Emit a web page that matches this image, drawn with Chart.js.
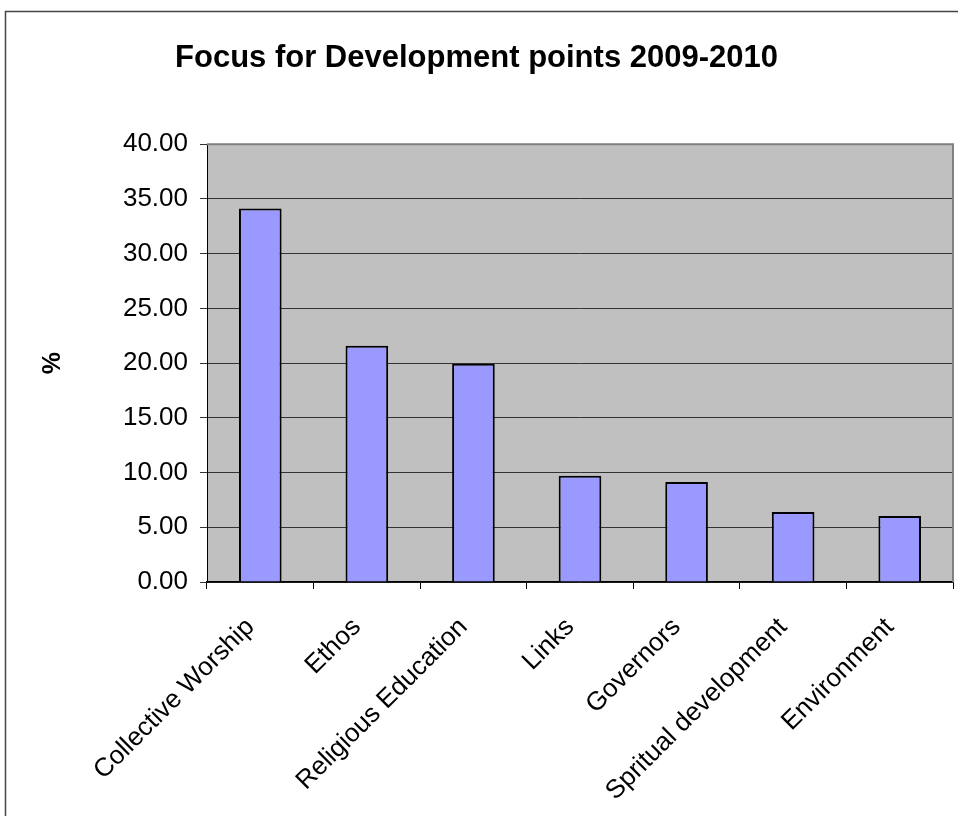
<!DOCTYPE html>
<html>
<head>
<meta charset="utf-8">
<script src="https://cdn.jsdelivr.net/npm/chart.js@4.4.1/dist/chart.umd.min.js"></script>
<style>
  html, body { margin: 0; padding: 0; background: #fff; }
  #graph { width: 958px; height: 816px; }
</style>
</head>
<body>
<div id="graph"><canvas id="myChart" width="958" height="816"></canvas></div>
<script>
var categories = ["Collective Worship", "Ethos", "Religious Education", "Links", "Governors", "Spritual development", "Environment"];
var percentages = [34.13, 21.58, 19.94, 9.71, 9.13, 6.39, 6.03];
var yTicks = [0, 5, 10, 15, 20, 25, 30, 35, 40];

var fontName = "'Liberation Sans', Arial, sans-serif";

// grey plot area + outer frame, Excel style
var frame = {
    id: 'frame',
    beforeDraw: function (chart) {
        var ctx = chart.ctx, a = chart.chartArea;
        ctx.save();
        ctx.fillStyle = '#fff';
        ctx.fillRect(0, 0, chart.width, chart.height);
        ctx.strokeStyle = '#444';
        ctx.lineWidth = 1.5;
        ctx.strokeRect(5.5, 11.5, chart.width + 20, chart.height + 20);
        ctx.fillStyle = '#c0c0c0';
        ctx.fillRect(a.left, a.top, a.right - a.left, a.bottom - a.top);
        ctx.restore();
    },
    afterDatasetsDraw: function (chart) {
        var ctx = chart.ctx, a = chart.chartArea;
        ctx.save();
        ctx.strokeStyle = '#808080';
        ctx.lineWidth = 2;
        ctx.beginPath();
        ctx.moveTo(a.left, a.top);
        ctx.lineTo(a.right, a.top);
        ctx.lineTo(a.right, a.bottom);
        ctx.stroke();
        ctx.restore();
    }
};

var ctx = document.getElementById('myChart').getContext('2d');
var chart = new Chart(ctx, {
    type: 'bar',
    data: {
        labels: categories,
        datasets: [{
            data: percentages,
            backgroundColor: '#9999ff',
            borderColor: '#000',
            borderWidth: 2,
            barPercentage: 0.4,
            categoryPercentage: 1
        }]
    },
    options: {
        responsive: false,
        animation: false,
        layout: { padding: { left: 0, right: 5, top: 0, bottom: 0 } },
        plugins: {
            legend: { display: false },
            tooltip: { enabled: false },
            title: {
                display: true,
                text: 'Focus for Development points 2009-2010',
                color: '#000',
                font: { family: fontName, size: 31, weight: 'bold' },
                padding: { top: 40, bottom: 67 }
            }
        },
        scales: {
            x: {
                grid: { offset: true, drawOnChartArea: false, drawTicks: true, tickLength: 7, color: '#000', lineWidth: 1 },
                border: { display: true, color: '#000', width: 1.5 },
                ticks: {
                    color: '#000',
                    font: { family: fontName, size: 26 },
                    minRotation: 45,
                    maxRotation: 45,
                    padding: 23,
                    labelOffset: -10,
                    autoSkip: false
                },
                afterFit: function (scale) { scale.height = 234; }
            },
            y: {
                min: 0,
                max: 40,
                afterBuildTicks: function (scale) {
                    scale.ticks = yTicks.map(function (v) { return { value: v }; });
                },
                grid: {
                    color: function (c) { return c.tick && c.tick.value === 40 ? '#808080' : '#333'; },
                    tickColor: '#333',
                    tickLength: 7,
                    lineWidth: 1
                },
                border: { display: true, color: '#000', width: 1 },
                ticks: {
                    color: '#000',
                    font: { family: fontName, size: 26 },
                    padding: 12,
                    callback: function (v) { return Number(v).toFixed(2); }
                },
                title: {
                    display: true,
                    text: '%',
                    color: '#000',
                    font: { family: fontName, size: 25, weight: 'bold' },
                    padding: { top: 38, bottom: 0 }
                },
                afterFit: function (scale) { scale.width = 207; }
            }
        }
    },
    plugins: [frame]
});
</script>
</body>
</html>
